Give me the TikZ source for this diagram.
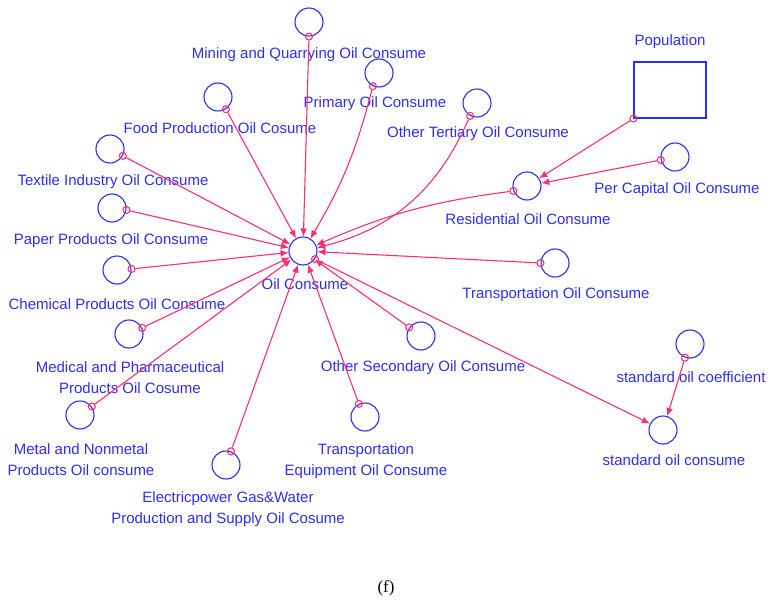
\documentclass[tikz,border=0pt]{standalone}
\usepackage{fontspec}
\setmainfont{Liberation Sans}
\newfontfamily\capfont{Liberation Serif}
\usetikzlibrary{arrows.meta}
\definecolor{vblue}{RGB}{45,45,250}
\definecolor{vlink}{RGB}{255,45,120}
\tikzset{
  >={Latex[length=8pt,width=7pt]},
  font=\fontsize{15}{21}\selectfont,
  aux/.style ={draw=vblue, line width=1.1pt, circle, minimum size=28pt, inner sep=0pt},
  lvl/.style ={draw=vblue, line width=1.1pt, minimum width=72pt, minimum height=56pt, inner sep=0pt},
  tap/.style ={draw=vlink, circle, minimum size=7pt, inner sep=0pt, line width=1.1pt},
  link/.style={->, vlink, line width=1.1pt},
  lbl/.style ={text=vblue, align=center, inner sep=0pt},
}

\begin{document}
\begin{tikzpicture}[x=1pt,y=-1pt]
  \useasboundingbox (0,0) rectangle (772,615);

  % variables
  \node[aux] (oil)  at (303,251) {};
  \node[aux] (mq)   at (309,22)  {};
  \node[aux] (prim) at (379,73)  {};
  \node[aux] (food) at (218,97)  {};
  \node[aux] (tert) at (477,103) {};
  \node[aux] (text) at (110,149) {};
  \node[aux] (resi) at (527,186) {};
  \node[lvl] (pop)  at (670,90)  {};
  \node[aux] (pcap) at (675,157) {};
  \node[aux] (pap)  at (112,208) {};
  \node[aux] (chem) at (117,270) {};
  \node[aux] (trns) at (555,263) {};
  \node[aux] (med)  at (129,334) {};
  \node[aux] (sec)  at (421,336) {};
  \node[aux] (met)  at (80,415)  {};
  \node[aux] (elec) at (226,465) {};
  \node[aux] (equip) at (365,417) {};
  \node[aux] (scoef) at (690,344) {};
  \node[aux] (scons) at (663,430) {};

  % labels
  \node[lbl] at (305,284) {Oil Consume};
  \node[lbl] at (309,55)  {Mining and Quarrying Oil Consume};
  \node[lbl] at (375,104) {Primary Oil Consume};
  \node[lbl] at (220,128) {Food Production Oil Cosume};
  \node[lbl] at (478,134) {Other Tertiary Oil Consume};
  \node[lbl] at (113,182) {Textile Industry Oil Consume};
  \node[lbl] at (528,219) {Residential Oil Consume};
  \node[lbl] at (670,42)  {Population};
  \node[lbl] at (677,190) {Per Capital Oil Consume};
  \node[lbl] at (111,241) {Paper Products Oil Consume};
  \node[lbl] at (117,304) {Chemical Products Oil Consume};
  \node[lbl] at (556,295) {Transportation Oil Consume};
  \node[lbl] at (130,378) {Medical and Pharmaceutical\\Products Oil Cosume};
  \node[lbl] at (423,368) {Other Secondary Oil Consume};
  \node[lbl] at (81,460)  {Metal and Nonmetal\\Products Oil consume};
  \node[lbl] at (228,509) {Electricpower Gas\&Water\\Production and Supply Oil Cosume};
  \node[lbl] at (366,461) {Transportation\\Equipment Oil Consume};
  \node[lbl] at (691,377) {standard oil coefficient};
  \node[lbl] at (674,460) {standard oil consume};

  % taps
  \node[tap] (mq-o)   at (mq.-90)    {};
  \node[tap] (prim-o) at (prim.-115) {};
  \node[tap] (food-o) at (food.-57)  {};
  \node[tap] (tert-o) at (tert.-118) {};
  \node[tap] (text-o) at (text.-28)  {};
  \node[tap] (resi-o) at (resi.-160) {};
  \node[tap] (pop-o)  at (pop.south west) {};
  \node[tap] (pcap-o) at (pcap.-168) {};
  \node[tap] (pap-o)  at (pap.-8)    {};
  \node[tap] (chem-o) at (chem.4)    {};
  \node[tap] (trns-o) at (trns.180)  {};
  \node[tap] (med-o)  at (med.25)    {};
  \node[tap] (sec-o)  at (sec.144)   {};
  \node[tap] (met-o)  at (met.36)    {};
  \node[tap] (elec-o) at (elec.70)   {};
  \node[tap] (equip-o) at (equip.115) {};
  \node[tap] (scoef-o) at (scoef.-110) {};
  \node[tap] (oil-o)  at (oil.-34)   {};

  % links
  \draw[link] (mq-o) -- (oil);
  \draw[link] (prim-o) to[bend left=8] (oil);
  \draw[link] (food-o) -- (oil);
  \draw[link] (tert-o) to[bend left=26] (oil);
  \draw[link] (text-o) -- (oil);
  \draw[link] (resi-o) to[bend right=8] (oil);
  \draw[link] (pap-o) -- (oil);
  \draw[link] (chem-o) -- (oil);
  \draw[link] (trns-o) -- (oil);
  \draw[link] (med-o) -- (oil);
  \draw[link] (sec-o) -- (oil);
  \draw[link] (met-o) -- (oil);
  \draw[link] (elec-o) -- (oil);
  \draw[link] (equip-o) -- (oil);
  \draw[link] (pop-o) -- (resi);
  \draw[link] (pcap-o) -- (resi);
  \draw[link] (oil-o) -- (scons);
  \draw[link] (scoef-o) -- (scons);

  \node[font=\capfont\fontsize{17}{20}\selectfont] (cap) at (386,588) {(f)};
\end{tikzpicture}
\end{document}
